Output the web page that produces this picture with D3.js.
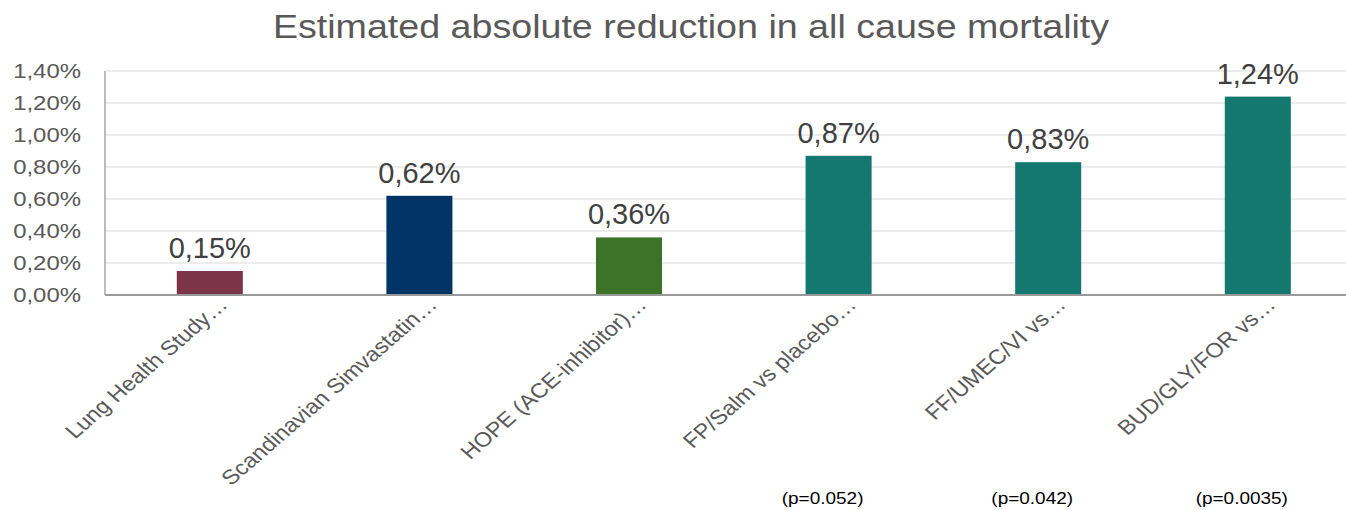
<!DOCTYPE html>
<html>
<head>
<meta charset="utf-8">
<script src="https://cdn.jsdelivr.net/npm/d3@7"></script>
<style>
  html, body { margin: 0; padding: 0; background: #fff; }
  svg { display: block; font-family: "Liberation Sans", Arial, sans-serif; }
</style>
</head>
<body>
<svg id="chart" width="1346" height="510"></svg>
<script>
// Trials and their estimated absolute reduction in all-cause mortality (%)
const categories = [
  "Lung Health Study…",
  "Scandinavian Simvastatin…",
  "HOPE (ACE-inhibitor)…",
  "FP/Salm vs placebo…",
  "FF/UMEC/VI vs…",
  "BUD/GLY/FOR vs…"
];
const values = [0.15, 0.62, 0.36, 0.87, 0.83, 1.24];
const pValues = ["", "", "", "(p=0.052)", "(p=0.042)", "(p=0.0035)"];
const barColors = ["#7b3448", "#003366", "#3d7229", "#157870", "#157870", "#157870"];
const yTicks = [0, 0.2, 0.4, 0.6, 0.8, 1.0, 1.2, 1.4];
const title = "Estimated absolute reduction in all cause mortality";

const svg = d3.select("#chart");
const plotLeft = 105, plotTop = 71, plotBottom = 295, plotRight = 105 + 6 * 209.6;

const locale = d3.formatLocale({ decimal: ",", thousands: ".", grouping: [3], currency: ["", "€"] });
const fmt = v => locale.format(".2f")(v) + "%";

const x = d3.scaleBand().domain(categories).range([plotLeft, plotRight])
  .paddingInner(0.685).paddingOuter(0.3425);
const y = d3.scaleLinear().domain([0, 1.4]).range([plotBottom, plotTop]);

// Title (slightly widened lettering)
svg.append("text")
  .attr("transform", "translate(691,38) scale(1.14,1)")
  .attr("text-anchor", "middle")
  .attr("font-size", 33).attr("fill", "#595959")
  .text(title);

// Horizontal gridlines
svg.append("g").selectAll("line")
  .data(yTicks.filter(t => t > 0))
  .join("line")
  .attr("x1", plotLeft).attr("x2", plotRight)
  .attr("y1", d => y(d)).attr("y2", d => y(d))
  .attr("stroke", "#d9d9d9").attr("stroke-width", 1.2);

// Y axis labels
const yAxis = svg.append("g").attr("transform", `translate(${plotLeft},0)`)
  .call(d3.axisLeft(y).tickValues(yTicks).tickFormat(fmt).tickSize(0).tickPadding(24));
yAxis.select(".domain").remove();
yAxis.selectAll("text")
  .attr("font-size", 21).attr("fill", "#595959")
  .attr("font-family", "Liberation Sans, Arial, sans-serif")
  .attr("transform", "scale(1.14,1)")
  .attr("x", -24 / 1.14);

// Bars
svg.append("g").selectAll("rect")
  .data(values)
  .join("rect")
  .attr("x", (d, i) => x(categories[i]))
  .attr("width", x.bandwidth())
  .attr("y", d => y(d))
  .attr("height", d => y(0) - y(d))
  .attr("fill", (d, i) => barColors[i]);

// Value labels
svg.append("g").selectAll("text")
  .data(values)
  .join("text")
  .attr("x", (d, i) => x(categories[i]) + x.bandwidth() / 2)
  .attr("y", d => y(d) - 13)
  .attr("text-anchor", "middle")
  .attr("font-size", 29).attr("fill", "#404040")
  .text(d => fmt(d));

// Axis lines
svg.append("line")
  .attr("x1", plotLeft).attr("x2", plotLeft).attr("y1", plotTop).attr("y2", plotBottom)
  .attr("stroke", "#a6a6a6").attr("stroke-width", 1.5);
svg.append("line")
  .attr("x1", plotLeft).attr("x2", plotRight).attr("y1", plotBottom).attr("y2", plotBottom)
  .attr("stroke", "#999999").attr("stroke-width", 2);

// Category labels, rotated
svg.append("g").selectAll("text")
  .data(categories)
  .join("text")
  .attr("transform", d => `translate(${x(d) + x.bandwidth() / 2 + 19},306) scale(1.15,1) rotate(-45)`)
  .attr("text-anchor", "end")
  .attr("font-size", 20.5).attr("fill", "#595959")
  .text(d => d);

// Significance notes under the triple-therapy trials
svg.append("g").selectAll("text")
  .data(pValues)
  .join("text")
  .attr("transform", (d, i) => `translate(${x(categories[i]) + x.bandwidth() / 2 - 16},504) scale(1.15,1)`)
  .attr("text-anchor", "middle")
  .attr("font-size", 16.5).attr("fill", "#000")
  .text(d => d);
</script>
</body>
</html>
